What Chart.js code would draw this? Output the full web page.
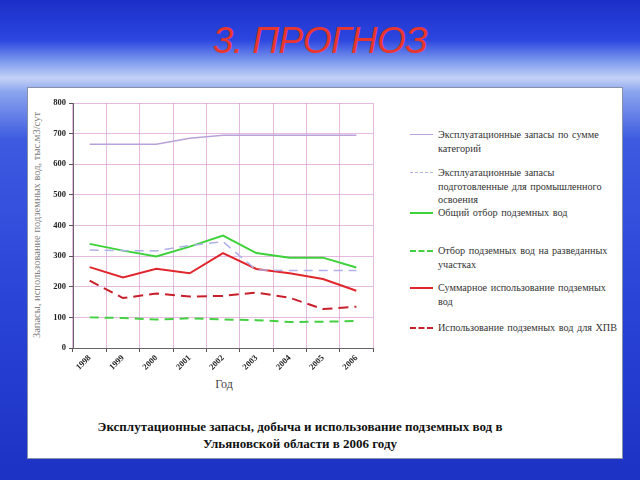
<!DOCTYPE html>
<html>
<head>
<meta charset="utf-8">
<script src="https://cdn.jsdelivr.net/npm/chart.js@4/dist/chart.umd.min.js"></script>
<style>
  html, body { margin: 0; padding: 0; }
  body {
    width: 640px; height: 480px; overflow: hidden; position: relative;
    background: linear-gradient(to bottom, #1c2ec8 0px, #2c46e0 40px, #7f9cee 62px, #c4d2f6 78px, #8aa4ee 92px, #3d5ae0 140px, #2a44d8 300px, #1c32c4 480px);
    font-family: "Liberation Serif", "DejaVu Serif", serif;
  }
  #title {
    position: absolute; left: 0; top: 20px; width: 640px; text-align: center;
    font-family: "Liberation Sans", Arial, sans-serif; font-style: italic;
    font-size: 37px; color: #e8362e; letter-spacing: -0.5px;
  }
  #panel {
    position: absolute; left: 27px; top: 87px; width: 594px; height: 370px;
    background: #fff; border: 1px solid #8890a8;
  }
  #chart { position: absolute; left: 0; top: 0; }
  #ytitle {
    position: absolute; left: 37px; top: 225px; width: 250px; margin-left: -125px;
    transform: rotate(-90deg); text-align: center; white-space: nowrap;
    font-size: 10.5px; color: #808080; line-height: 12px; margin-top: -6px;
  }
  #xtitle {
    position: absolute; left: 224px; top: 377px; width: 60px; margin-left: -30px;
    text-align: center; font-size: 12px; color: #444;
  }
  #caption {
    position: absolute; left: 0; top: 418px; width: 600px; text-align: center;
    font-weight: bold; font-size: 13px; line-height: 17px; color: #111;
  }
  .leg { position: absolute; left: 410px; font-size: 10.2px; line-height: 13.5px; color: #333; word-spacing: 1px; }
  .leg .sample { position: absolute; left: 0; top: 6px; width: 23px; height: 0; }
  .leg .txt { margin-left: 28px; white-space: nowrap; }
</style>
</head>
<body>
<div id="title">3. ПРОГНОЗ</div>
<div id="panel"></div>
<div id="ytitle">Запасы, использование подземных вод, тыс.м3/сут</div>
<div id="xtitle">Год</div>
<div id="caption">Эксплутационные запасы, добыча и использование подземных вод в<br>Ульяновской области в 2006 году</div>
<div id="legend"></div>
<canvas id="chart" width="640" height="480"></canvas>
<script>
"use strict";

// categories and tick labels
const years = ["1998", "1999", "2000", "2001", "2002", "2003", "2004", "2005", "2006"];
const yTicks = [0, 100, 200, 300, 400, 500, 600, 700, 800];

// series values, thousand m3 per day
const reservesTotal    = [665, 665, 665, 685, 695, 695, 695, 695, 695];
const reservesPrepared = [320, 318, 317, 335, 347, 255, 253, 253, 253];
const withdrawalTotal  = [340, 318, 299, 331, 367, 310, 295, 295, 263];
const withdrawalSites  = [100, 98, 93, 97, 93, 91, 85, 86, 88];
const useTotal         = [264, 230, 259, 244, 310, 258, 244, 225, 187];
const useDrinking      = [220, 163, 178, 168, 170, 181, 164, 127, 135];

const seriesLabels = [
  ["Эксплуатационные запасы по сумме", "категорий"],
  ["Эксплуатационные запасы", "подготовленные для промышленного", "освоения"],
  ["Общий отбор подземных вод"],
  ["Отбор подземных вод на разведанных", "участках"],
  ["Суммарное использование подземных", "вод"],
  ["Использование подземных вод для ХПВ"]
];

const C = {
  lilac: "#b9a2d9",
  lilacDash: "#aeb0e6",
  green: "#3ed23a",
  greenDash: "#44d040",
  red: "#e0262c",
  redDash: "#c8202a",
  grid: "rgba(210, 130, 200, 0.55)"
};

const styles = [
  { color: C.lilac, width: 1.5, dash: [] },
  { color: C.lilacDash, width: 1.5, dash: [9, 6] },
  { color: C.green, width: 2, dash: [] },
  { color: C.greenDash, width: 2, dash: [9, 6] },
  { color: C.red, width: 2, dash: [] },
  { color: C.redDash, width: 2, dash: [10, 6] }
];
const seriesData = [reservesTotal, reservesPrepared, withdrawalTotal, withdrawalSites, useTotal, useDrinking];

// legend rows (top of each entry, px)
const legendTops = [128, 166, 206, 244, 281, 321];

function buildLegend() {
  const box = document.getElementById("legend");
  seriesLabels.forEach((lines, i) => {
    const s = styles[i];
    const row = document.createElement("div");
    row.className = "leg";
    row.style.top = legendTops[i] + "px";
    const sample = document.createElement("div");
    sample.className = "sample";
    sample.style.borderTop = s.width + "px " + (s.dash.length ? "dashed " : "solid ") + s.color;
    const txt = document.createElement("div");
    txt.className = "txt";
    txt.innerHTML = lines.join("<br>");
    row.appendChild(sample);
    row.appendChild(txt);
    box.appendChild(row);
  });
}

function initChart() {
  const serif = "'Liberation Serif', 'DejaVu Serif', serif";
  new Chart(document.getElementById("chart"), {
    type: "line",
    data: {
      labels: years,
      datasets: seriesData.map((d, i) => ({
        label: seriesLabels[i].join(" "),
        data: d,
        borderColor: styles[i].color,
        borderWidth: styles[i].width,
        borderDash: styles[i].dash,
        pointRadius: 0,
        tension: 0,
        fill: false
      }))
    },
    options: {
      responsive: false,
      animation: false,
      layout: { autoPadding: false, padding: { left: 20, right: 267, top: 103, bottom: 0 } },
      plugins: { legend: { display: false }, title: { display: false }, tooltip: { enabled: false } },
      scales: {
        x: {
          offset: true,
          grid: { offset: true, color: C.grid, tickColor: "#555", tickLength: 4 },
          border: { color: "#666" },
          ticks: {
            minRotation: 45, maxRotation: 45, padding: 1,
            color: "#222", font: { family: serif, size: 8.5, weight: "bold" }
          },
          afterFit(scale) { scale.height = 132; }
        },
        y: {
          min: 0, max: 800,
          afterBuildTicks(scale) { scale.ticks = yTicks.map(v => ({ value: v })); },
          grid: { color: C.grid, tickColor: "#555", tickLength: 4 },
          border: { color: "#666" },
          ticks: { padding: 3, color: "#222", font: { family: serif, size: 8.5, weight: "bold" } },
          afterFit(scale) { scale.width = 53; }
        }
      }
    }
  });
}

buildLegend();
initChart();
</script>
</body>
</html>
